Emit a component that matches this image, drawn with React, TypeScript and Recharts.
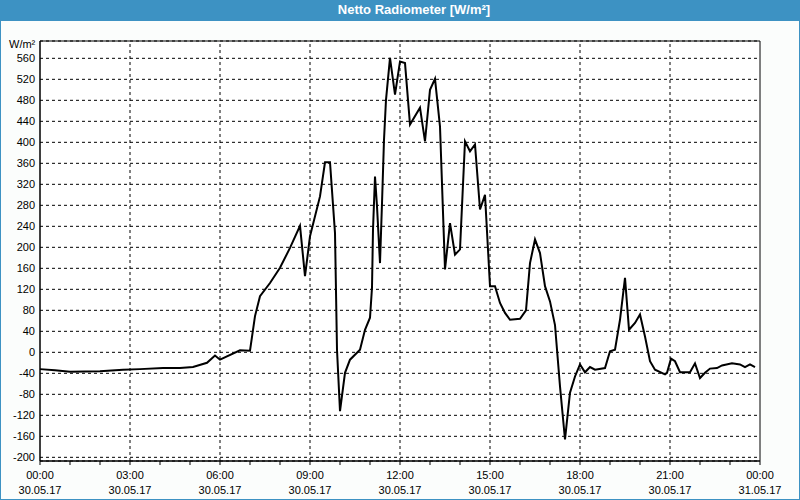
import React from 'react';
import { LineChart, Line, XAxis, YAxis, CartesianGrid, ReferenceLine, ReferenceArea } from 'recharts';

// minutes after 00:00 on 30.05.17
const minutes = [
  0, 30, 60, 120, 166, 200, 246, 280, 306, 334, 350, 360, 400, 420, 430, 440, 460, 480, 500, 520,
  530, 540, 560, 570, 580, 590, 594, 600, 610, 620, 640, 650, 660, 664, 666, 670, 674, 680, 684, 688,
  692, 700, 710, 720, 730, 740, 760, 770, 780, 790, 800, 810, 820, 830, 840, 850, 860, 870, 880, 890,
  900, 910, 920, 930, 940, 960, 972, 980, 990, 1000, 1010, 1020, 1030, 1040, 1050, 1060, 1070, 1080, 1090, 1100,
  1110, 1130, 1140, 1150, 1160, 1170, 1178, 1190, 1200, 1210, 1220, 1230, 1250, 1254, 1262, 1270, 1280, 1300, 1310, 1320,
  1330, 1340, 1354, 1364, 1384, 1400, 1410, 1420, 1430,
];

const wattsPerM2 = [
  -32, -34, -37, -36, -33, -32, -30, -30, -28, -20, -6, -14, 4, 3, 69, 107, 132, 161, 199, 241,
  145, 221, 297, 362, 362, 227, 5, -112, -39, -14, 5, 43, 66, 123, 234, 335, 278, 170, 284, 405,
  481, 561, 491, 554, 551, 434, 466, 402, 500, 521, 430, 158, 246, 186, 196, 402, 383, 396, 272, 300,
  126, 126, 94, 75, 62, 64, 80, 170, 215, 189, 126, 97, 52, -65, -166, -77, -46, -23, -38, -28,
  -33, -30, 2, 5, 62, 142, 43, 56, 72, 30, -17, -33, -42, -39, -12, -17, -38, -38, -21, -49,
  -39, -31, -30, -25, -21, -23, -28, -23, -28,
];

const yTicks = [-200, -160, -120, -80, -40, 0, 40, 80, 120, 160, 200, 240, 280, 320, 360, 400, 440, 480, 520, 560];

const hourTicks = [
  0, 60, 120, 180, 240, 300, 360, 420, 480, 540, 600, 660, 720, 780, 840, 900, 960, 1020, 1080, 1140,
  1200, 1260, 1320, 1380, 1440,
];
const labelTicks = [0, 180, 360, 540, 720, 900, 1080, 1260, 1440];
const timeLabels = ['00:00', '03:00', '06:00', '09:00', '12:00', '15:00', '18:00', '21:00', '00:00'];
const dateLabels = ['30.05.17', '30.05.17', '30.05.17', '30.05.17', '30.05.17', '30.05.17', '30.05.17', '30.05.17', '31.05.17'];

const data = minutes.map((t, i) => ({ t, v: wattsPerM2[i] }));

const FONT = '"Liberation Sans", Arial, sans-serif';
const BLUE = '#3d92c3';

const TimeTick = (props: any) => {
  const { x, y, payload } = props;
  const i = labelTicks.indexOf(payload.value);
  if (i < 0) return <g />;
  return (
    <text x={x} y={y} textAnchor="middle" fontSize={11} fill="#000" fontFamily={FONT}>
      <tspan x={x} dy={12}>{timeLabels[i]}</tspan>
      <tspan x={x} dy={15}>{dateLabels[i]}</tspan>
    </text>
  );
};

export default function App() {
  return (
    <div
      style={{
        position: 'absolute',
        left: 0,
        top: 0,
        width: 800,
        height: 500,
        background: '#fbfdfc',
        boxShadow: `inset 1px 0 0 ${BLUE}, inset -1px 0 0 ${BLUE}, inset 0 -1px 0 ${BLUE}`,
        fontFamily: FONT,
      }}
    >
      <div
        style={{
          position: 'absolute',
          left: 0,
          top: 0,
          width: 800,
          height: 21,
          background: BLUE,
          color: '#fff',
          fontWeight: 'bold',
          fontSize: 13,
          lineHeight: '20px',
          textAlign: 'center',
        }}
      >
        <span style={{ position: 'relative', left: 14 }}>Netto Radiometer [W/m²]</span>
      </div>
      <div style={{ position: 'absolute', left: 9, top: 38, fontSize: 11, color: '#000' }}>W/m²</div>
      <div style={{ position: 'absolute', left: 0, top: 0 }}>
        <LineChart width={800} height={500} data={data} margin={{ top: 41, right: 40, bottom: 0, left: 0 }}>
          <CartesianGrid vertical={false} fill="#fff" stroke="#000" strokeDasharray="3 3" />
          {labelTicks.slice(1, -1).map((t) => (
            <ReferenceLine key={t} x={t} stroke="#000" strokeDasharray="3 3" />
          ))}
          <XAxis
            dataKey="t"
            type="number"
            domain={[0, 1440]}
            ticks={hourTicks}
            interval={0}
            height={39}
            tickSize={4}
            tickMargin={2}
            axisLine={{ stroke: '#000' }}
            tickLine={{ stroke: '#000' }}
            tick={TimeTick}
          />
          <YAxis
            type="number"
            domain={[-207, 593]}
            ticks={yTicks}
            interval={0}
            width={40}
            tickSize={0}
            tickMargin={5}
            axisLine={{ stroke: '#000' }}
            tickLine={false}
            tick={{ fill: '#000', fontSize: 11, fontFamily: FONT }}
          />
          <ReferenceArea x1={0} x2={1440} y1={-207} y2={593} fill="none" stroke="#000" ifOverflow="visible" />
          <Line
            type="linear"
            dataKey="v"
            stroke="#000"
            strokeWidth={2}
            dot={false}
            isAnimationActive={false}
          />
        </LineChart>
      </div>
    </div>
  );
}
